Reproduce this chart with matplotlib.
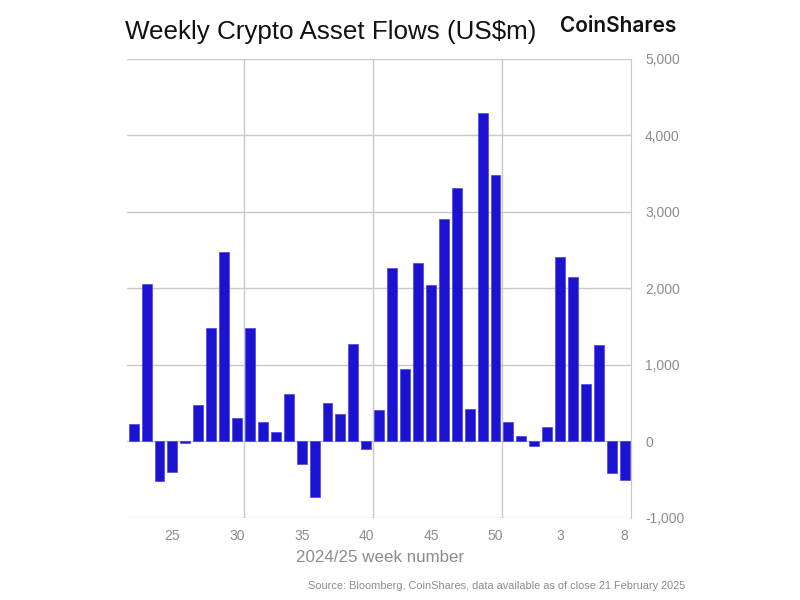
import matplotlib.pyplot as plt
import numpy as np
from matplotlib.ticker import FuncFormatter

plt.rcParams['font.family'] = ['Liberation Sans', 'DejaVu Sans']

# week labels: 2024 weeks 22-52, then 2025 weeks 1-8
weeks = list(range(22, 53)) + list(range(1, 9))
flows = [220, 2060, -520, -400, -20, 470, 1485, 2475, 305, 1475,
         250, 118, 620, -293, -728, 507, 362, 1266, -105, 405,
         2266, 939, 2336, 2039, 2900, 3306, 424, 4288, 3480, 249,
         70, -57, 188, 2406, 2148, 747, 1262, -415, -511]

tick_weeks = [25, 30, 35, 40, 45, 50, 3, 8]

grey = '#8c8c8c'
grid_col = '#c8c8c8'

x = np.arange(len(weeks))

fig = plt.figure(figsize=(8, 6), dpi=100)
ax = fig.add_axes([0.159, 0.137, 0.630, 0.765])

ax.bar(x, flows, width=0.77, color='#1c12d2', edgecolor='#4a44e0', linewidth=0.5, zorder=3)

ax.set_xlim(-0.5, len(weeks) - 0.5)
ax.set_ylim(-1000, 5000)

# tick labels under chosen weeks
tick_pos = []
for i, w in enumerate(weeks):
    if w in tick_weeks and (i >= 3):
        tick_pos.append(i)
ax.set_xticks(tick_pos)
ax.set_xticklabels([str(weeks[i]) for i in tick_pos])

# vertical gridlines between categories every 10 weeks
for b in [8.5, 18.5, 28.5]:
    ax.axvline(b, color=grid_col, linewidth=1, zorder=1)

ax.set_yticks(range(-1000, 5001, 1000))
ax.yaxis.set_major_formatter(FuncFormatter(lambda v, p: f'{int(v):,}'))
ax.yaxis.tick_right()
ax.yaxis.grid(True, color=grid_col, linewidth=1, zorder=1)

ax.tick_params(axis='both', length=0, colors=grey, labelsize=10)
ax.tick_params(axis='y', pad=10)
ax.tick_params(axis='x', pad=8)

for s in ['top', 'left', 'bottom']:
    ax.spines[s].set_visible(False)
ax.spines['right'].set_color(grid_col)

ax.set_xlabel('2024/25 week number', fontsize=12.2, color=grey)
ax.xaxis.set_label_coords(0.502, -0.07)

fig.text(0.156, 0.946, 'Weekly Crypto Asset Flows (US$m)', fontsize=18.7, color='#111111', va='center')
fig.text(0.845, 0.957, 'CoinShares', fontsize=15, color='#111111', va='center', ha='right',
         fontweight='semibold', family=['Inter', 'DejaVu Sans'])
fig.text(0.857, 0.023, 'Source: Bloomberg, CoinShares, data available as of close 21 February 2025',
         fontsize=7.9, color=grey, ha='right', va='center')

fig.savefig('out.png', dpi=100)
